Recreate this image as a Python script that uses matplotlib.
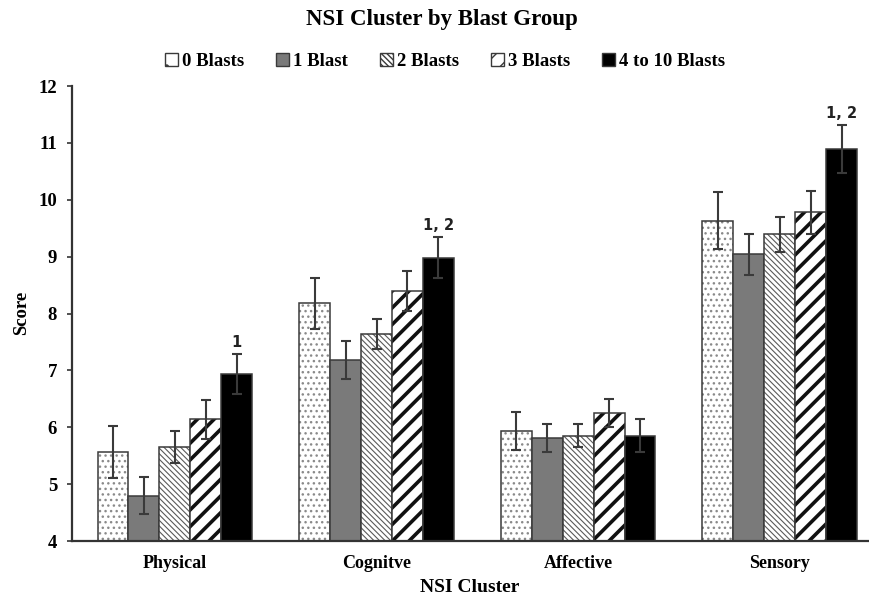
import matplotlib
matplotlib.use('Agg')
import matplotlib.pyplot as plt
from matplotlib.patches import Patch
import numpy as np

categories = ['Physical', 'Cognitve', 'Affective', 'Sensory']
groups = ['0 Blasts', '1 Blast', '2 Blasts', '3 Blasts', '4 to 10 Blasts']

mean_0 = [5.57, 8.18, 5.93, 9.63]
mean_1 = [4.80, 7.18, 5.81, 9.04]
mean_2 = [5.65, 7.64, 5.85, 9.39]
mean_3 = [6.14, 8.40, 6.25, 9.78]
mean_4 = [6.93, 8.98, 5.85, 10.89]

err_0 = [0.46, 0.45, 0.33, 0.50]
err_1 = [0.33, 0.33, 0.24, 0.36]
err_2 = [0.28, 0.27, 0.20, 0.30]
err_3 = [0.34, 0.35, 0.25, 0.38]
err_4 = [0.35, 0.36, 0.29, 0.42]

sig_labels = ['1', '1, 2', '', '1, 2']

y_ticks = [4, 5, 6, 7, 8, 9, 10, 11, 12]

means = [mean_0, mean_1, mean_2, mean_3, mean_4]
errs = [err_0, err_1, err_2, err_3, err_4]

SERIF = ['Liberation Serif', 'DejaVu Serif']
plt.rcParams['font.family'] = SERIF

# style per group: facecolor, hatch, hatch colour, hatch linewidth
styles = [
    dict(fc='white', hatch='...', hc='#8a8a8a', hlw=1.0),
    dict(fc='#7a7a7a', hatch=None, hc='#7a7a7a', hlw=1.0),
    dict(fc='white', hatch='\\\\\\\\\\\\', hc='#5a5a5a', hlw=0.8),
    dict(fc='white', hatch='//', hc='#111111', hlw=2.6),
    dict(fc='black', hatch=None, hc='black', hlw=1.0),
]
edge = '#3a3a3a'

fig = plt.figure(figsize=(8.69, 6.01), dpi=100)
ax = fig.add_axes([0.0825, 0.0998, 0.9175, 0.757])

x = np.arange(len(categories))
w = 0.1535

def make_bar(ax, xs, hs, st):
    bars = ax.bar(xs, np.array(hs) - 4, bottom=4, width=w, color=st['fc'],
                  edgecolor=st['hc'], linewidth=0, hatch=st['hatch'])
    for b in bars:
        if hasattr(b, 'set_hatch_linewidth'):
            b.set_hatch_linewidth(st['hlw'])
    ax.bar(xs, np.array(hs) - 4, bottom=4, width=w, fill=False,
           edgecolor=edge, linewidth=1.1)
    return bars

for j in range(5):
    xs = x + (j - 2) * w
    st = styles[j]
    with plt.rc_context({'hatch.linewidth': st['hlw']}):
        make_bar(ax, xs, means[j], st)
    ax.errorbar(xs, means[j], yerr=errs[j], fmt='none', ecolor='#3a3a3a',
                elinewidth=1.5, capsize=3.3, capthick=1.5, zorder=5)

# significance annotations over the 4-10 group
xs4 = x + 2 * w
for i, lab in enumerate(sig_labels):
    if lab:
        ax.annotate(lab, (xs4[i], mean_4[i] + err_4[i]), xytext=(0, 3),
                    textcoords='offset points', ha='center', va='bottom',
                    fontsize=10.5, fontweight='bold', color='#222222',
                    family=['DejaVu Sans'])

ax.set_xlim(-0.512, 3.443)
ax.set_ylim(4, 12)
ax.set_yticks(y_ticks)
ax.set_yticklabels([str(t) for t in y_ticks])
ax.set_xticks(x)
ax.set_xticklabels(categories)
for s in ['top', 'right']:
    ax.spines[s].set_visible(False)
for s in ['left', 'bottom']:
    ax.spines[s].set_color('#333333')
    ax.spines[s].set_linewidth(1.6)
ax.tick_params(axis='y', direction='out', length=3.5, width=1.2, color='#333333',
               pad=7, labelsize=13.5)
ax.tick_params(axis='x', length=0, pad=10, labelsize=13)
for lbl in ax.get_yticklabels() + ax.get_xticklabels():
    lbl.set_fontweight('bold')

fig.text(0.508, 0.968, 'NSI Cluster by Blast Group', ha='center', va='center',
         fontsize=16.5, fontweight='bold')
fig.text(470 / 869, 1 - 588 / 601, 'NSI Cluster', ha='center', va='center',
         fontsize=14, fontweight='bold')
fig.text(22 / 869, 1 - 313 / 601, 'Score', ha='center', va='center',
         rotation=90, fontsize=13.5, fontweight='bold')

handles = []
for j in range(5):
    st = styles[j]
    with plt.rc_context({'hatch.linewidth': min(st['hlw'], 1.2)}):
        p = Patch(facecolor=st['fc'], edgecolor=edge,
                  hatch=st['hatch'] if st['hatch'] != '...' else '.',
                  linewidth=1.0)
    handles.append(p)
fig.legend(handles, groups, loc='center', bbox_to_anchor=(0.512, 0.898), ncol=5,
           frameon=False, prop={'family': SERIF, 'weight': 'bold', 'size': 13.5},
           handlelength=0.7, handleheight=0.7, handletextpad=0.2,
           columnspacing=1.7, borderaxespad=0)

fig.savefig('out.png', dpi=100)
